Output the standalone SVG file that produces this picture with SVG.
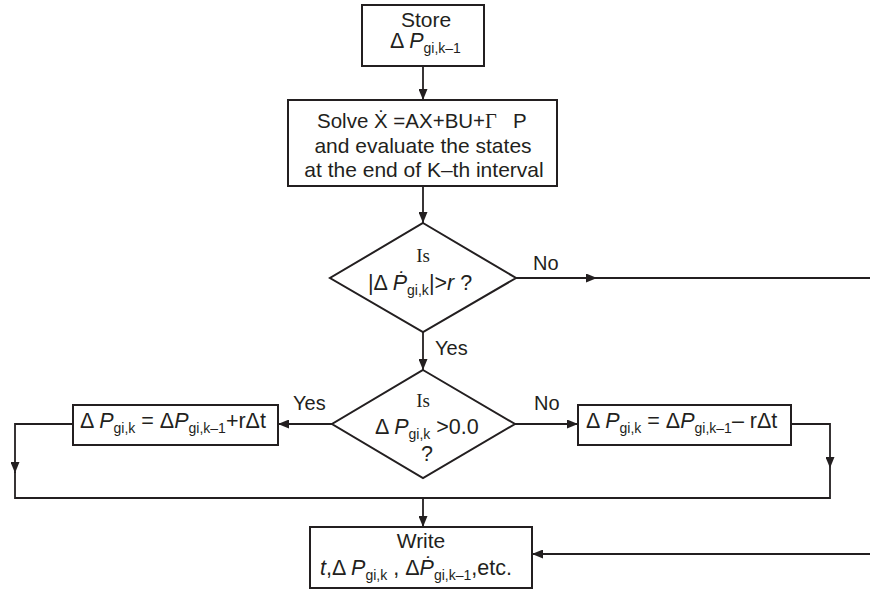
<svg xmlns="http://www.w3.org/2000/svg" width="870" height="591" viewBox="0 0 870 591">
<style>
.box{fill:#fff;stroke:#231f20;stroke-width:2}
.ln{fill:none;stroke:#231f20;stroke-width:1.8}
.t{font-family:"Liberation Sans",Arial,sans-serif;font-size:20px;fill:#231f20}
.b{font-family:"Liberation Sans",Arial,sans-serif;font-size:21px;fill:#231f20}
.f{font-family:"Liberation Sans",Arial,sans-serif;font-size:21.5px;fill:#231f20}
.s{font-family:"Liberation Serif","Times New Roman",serif;font-size:19px;fill:#231f20}
.sub{font-size:14px}
.i{font-style:italic}
</style>
<defs>
<marker id="ah" viewBox="0 0 11 9" refX="11" refY="4.5" markerWidth="11" markerHeight="9" markerUnits="userSpaceOnUse" orient="auto">
<path d="M0,0 L11,4.5 L0,9 z" fill="#231f20"/>
</marker>
</defs>
<g id="connectors">
<path class="ln" d="M423,66 V100" marker-end="url(#ah)"/>
<path class="ln" d="M423,186 V223" marker-end="url(#ah)"/>
<path class="ln" d="M516,278 H597" marker-end="url(#ah)"/>
<path class="ln" d="M597,278 H870"/>
<path class="ln" d="M423,332 V370" marker-end="url(#ah)"/>
<path class="ln" d="M332,424 H278" marker-end="url(#ah)"/>
<path class="ln" d="M515,424 H578" marker-end="url(#ah)"/>
<path class="ln" d="M73,424 H15 V473" marker-end="url(#ah)"/>
<path class="ln" d="M15,472 V498 H830 V468"/>
<path class="ln" d="M791,424 H830 V468" marker-end="url(#ah)"/>
<path class="ln" d="M423,498 V527" marker-end="url(#ah)"/>
<path class="ln" d="M870,554 H532" marker-end="url(#ah)"/>
<text class="t" x="533" y="270">No</text>
<text class="t" x="435" y="355">Yes</text>
<text class="t" x="293" y="410">Yes</text>
<text class="t" x="534" y="410">No</text>
</g>
<g id="store">
<rect class="box" x="362" y="5" width="122" height="61"/>
<text class="b" x="426" y="27" text-anchor="middle">Store</text>
<text class="f" x="390" y="48">Δ <tspan class="i">P</tspan><tspan class="sub" dy="5">gi,k–1</tspan></text>
</g>
<g id="solve">
<rect class="box" x="288" y="100" width="269" height="86"/>
<text class="b" x="317" y="128" style="font-size:20.5px">Solve Ẋ =AX+BU+<tspan class="s" style="font-size:20.5px">Γ</tspan><tspan dx="16">P</tspan></text>
<text class="b" x="423" y="153" text-anchor="middle">and evaluate the states</text>
<text class="b" x="424" y="177" text-anchor="middle">at the end of K–th interval</text>
</g>
<g id="decision1">
<polygon class="box" points="423,223 516,278 423,332 330,278"/>
<text class="s" x="423" y="262" text-anchor="middle">Is</text>
<text class="f" x="368" y="290">|Δ <tspan class="i">Ṗ</tspan><tspan class="sub" dy="5">gi,k</tspan><tspan dy="-5">|&gt;</tspan><tspan class="i">r</tspan> ?</text>
</g>
<g id="decision2">
<polygon class="box" points="423,370 515,424 423,478 332,424"/>
<text class="s" x="423" y="407" text-anchor="middle">Is</text>
<text class="f" x="375" y="434">Δ <tspan class="i">P</tspan><tspan class="sub" dy="5">gi,k</tspan><tspan dy="-5"> &gt;0.0</tspan></text>
<text class="f" x="427" y="461" text-anchor="middle">?</text>
</g>
<g id="increase">
<rect class="box" x="73" y="405" width="205" height="40"/>
<text class="f" x="80" y="428">Δ <tspan class="i">P</tspan><tspan class="sub" dy="5">gi,k</tspan><tspan dy="-5"> = Δ</tspan><tspan class="i">P</tspan><tspan class="sub" dy="5">gi,k–1</tspan><tspan dy="-5">+rΔt</tspan></text>
</g>
<g id="decrease">
<rect class="box" x="578" y="405" width="213" height="40"/>
<text class="f" x="586" y="428">Δ <tspan class="i">P</tspan><tspan class="sub" dy="5">gi,k</tspan><tspan dy="-5"> = Δ</tspan><tspan class="i">P</tspan><tspan class="sub" dy="5">gi,k–1</tspan><tspan dy="-5">– rΔt</tspan></text>
</g>
<g id="write">
<rect class="box" x="310" y="527" width="222" height="61"/>
<text class="b" x="421" y="548" text-anchor="middle">Write</text>
<text class="f" x="320" y="575"><tspan class="i">t</tspan>,Δ <tspan class="i">P</tspan><tspan class="sub" dy="5">gi,k</tspan><tspan dy="-5"> , Δ</tspan><tspan class="i">Ṗ</tspan><tspan class="sub" dy="5">gi,k–1</tspan><tspan dy="-5">,etc.</tspan></text>
</g>
</svg>
